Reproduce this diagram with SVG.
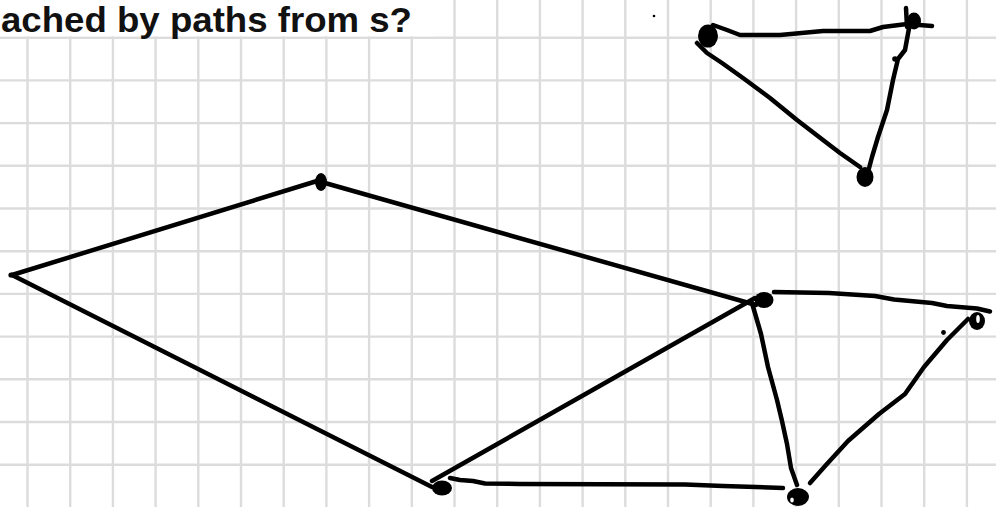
<svg xmlns="http://www.w3.org/2000/svg" width="996" height="507" viewBox="0 0 996 507">
<style>
.grid line{stroke:#dcdcdc;stroke-width:2.4}
.edge{fill:none;stroke:#000;stroke-width:4.5;stroke-linecap:round;stroke-linejoin:round}
.blob{fill:#000}
.hole{fill:#fff}
.title{font-family:"Liberation Sans",Arial,sans-serif;font-weight:bold;font-size:35px;fill:#111}
</style>
<rect width="996" height="507" fill="#fff"/>
<g class="grid">
<line x1="27.5" y1="0" x2="27.5" y2="507"/><line x1="70.2" y1="0" x2="70.2" y2="507"/><line x1="112.9" y1="0" x2="112.9" y2="507"/><line x1="155.6" y1="0" x2="155.6" y2="507"/><line x1="198.3" y1="0" x2="198.3" y2="507"/><line x1="241" y1="0" x2="241" y2="507"/><line x1="283.7" y1="0" x2="283.7" y2="507"/><line x1="326.4" y1="0" x2="326.4" y2="507"/><line x1="369.1" y1="0" x2="369.1" y2="507"/><line x1="411.8" y1="0" x2="411.8" y2="507"/><line x1="454.5" y1="0" x2="454.5" y2="507"/><line x1="497.2" y1="0" x2="497.2" y2="507"/><line x1="539.9" y1="0" x2="539.9" y2="507"/><line x1="582.6" y1="0" x2="582.6" y2="507"/><line x1="625.3" y1="0" x2="625.3" y2="507"/><line x1="668" y1="0" x2="668" y2="507"/><line x1="710.7" y1="0" x2="710.7" y2="507"/><line x1="753.4" y1="0" x2="753.4" y2="507"/><line x1="796.1" y1="0" x2="796.1" y2="507"/><line x1="838.8" y1="0" x2="838.8" y2="507"/><line x1="881.5" y1="0" x2="881.5" y2="507"/><line x1="924.2" y1="0" x2="924.2" y2="507"/><line x1="966.9" y1="0" x2="966.9" y2="507"/>
<line x1="0" y1="37.7" x2="996" y2="37.7"/><line x1="0" y1="80.4" x2="996" y2="80.4"/><line x1="0" y1="123.1" x2="996" y2="123.1"/><line x1="0" y1="165.8" x2="996" y2="165.8"/><line x1="0" y1="208.5" x2="996" y2="208.5"/><line x1="0" y1="251.2" x2="996" y2="251.2"/><line x1="0" y1="293.9" x2="996" y2="293.9"/><line x1="0" y1="336.6" x2="996" y2="336.6"/><line x1="0" y1="379.3" x2="996" y2="379.3"/><line x1="0" y1="422" x2="996" y2="422"/><line x1="0" y1="464.7" x2="996" y2="464.7"/>
</g>
<rect x="0" y="0" width="434" height="36.3" fill="#fff"/>
<text class="title" x="1" y="32" textLength="411" lengthAdjust="spacingAndGlyphs">ached by paths from s?</text>
<g id="connectors">
<path class="edge" d="M12,275 L317,181"/>
<path class="edge" d="M12,275 L432,487"/>
<path class="edge" d="M325,183 L756,305"/>
<path class="edge" d="M432,481 L755,298"/>
<path class="edge" d="M752,303 L761,334 L768,367 L777,400 L782,421 L787,444 L791,468 L797,485"/>
<path class="edge" d="M774,292 L829,293 L875,296 L894,299.5 L932,303 L947,306 L977,308.5 L990,311.5"/>
<path class="edge" d="M968,319 L947,340 L924,367 L905,394 L879,414 L848,441 L826,465 L810,483"/>
<path class="edge" d="M450,478 L460,480 L473,481 L485,483.5 L520,484 L685,484.5 L723,486 L783,488"/>
<path class="edge" d="M713,25 L727,30 L740,35 L780,35 L823,31 L870,31 L883,27 L907,24 L932,26"/>
<path class="edge" d="M906,8 L907,27"/>
<path class="edge" d="M910,23 L905,50 L898,59 L893,80 L887,110 L878,137 L872,157 L868,172"/>
<path class="edge" d="M697,43 L707,53 L722,63 L743,78 L770,98 L797,120 L823,140 L840,153 L860,167"/>
</g>
<g id="node-s"><circle class="blob" cx="11" cy="275" r="2.6"/></g>
<g id="node-a"><ellipse class="blob" cx="321" cy="182" rx="6" ry="9"/></g>
<g id="node-b"><ellipse class="blob" cx="442" cy="488" rx="10" ry="7.5"/></g>
<g id="node-c"><ellipse class="blob" cx="764" cy="300" rx="9.5" ry="8"/></g>
<g id="node-d"><ellipse class="blob" cx="798" cy="497" rx="11" ry="9"/><ellipse class="hole" cx="792" cy="500" rx="1.8" ry="2.6"/></g>
<g id="node-e"><ellipse class="blob" cx="977" cy="321" rx="8" ry="9"/><ellipse class="hole" cx="978" cy="319" rx="1.8" ry="4"/></g>
<g id="node-t1"><ellipse class="blob" cx="708" cy="36" rx="10" ry="11.5"/></g>
<g id="node-t2"><ellipse class="blob" cx="914" cy="21" rx="7" ry="8.5"/></g>
<g id="node-t3"><ellipse class="blob" cx="865" cy="177" rx="8.5" ry="10"/></g>
<g id="marks">
<circle class="blob" cx="895" cy="59" r="2.8"/>
<circle class="blob" cx="943.5" cy="332.5" r="2.4"/>
<circle class="blob" cx="654" cy="16" r="1.3"/>
</g>
</svg>
